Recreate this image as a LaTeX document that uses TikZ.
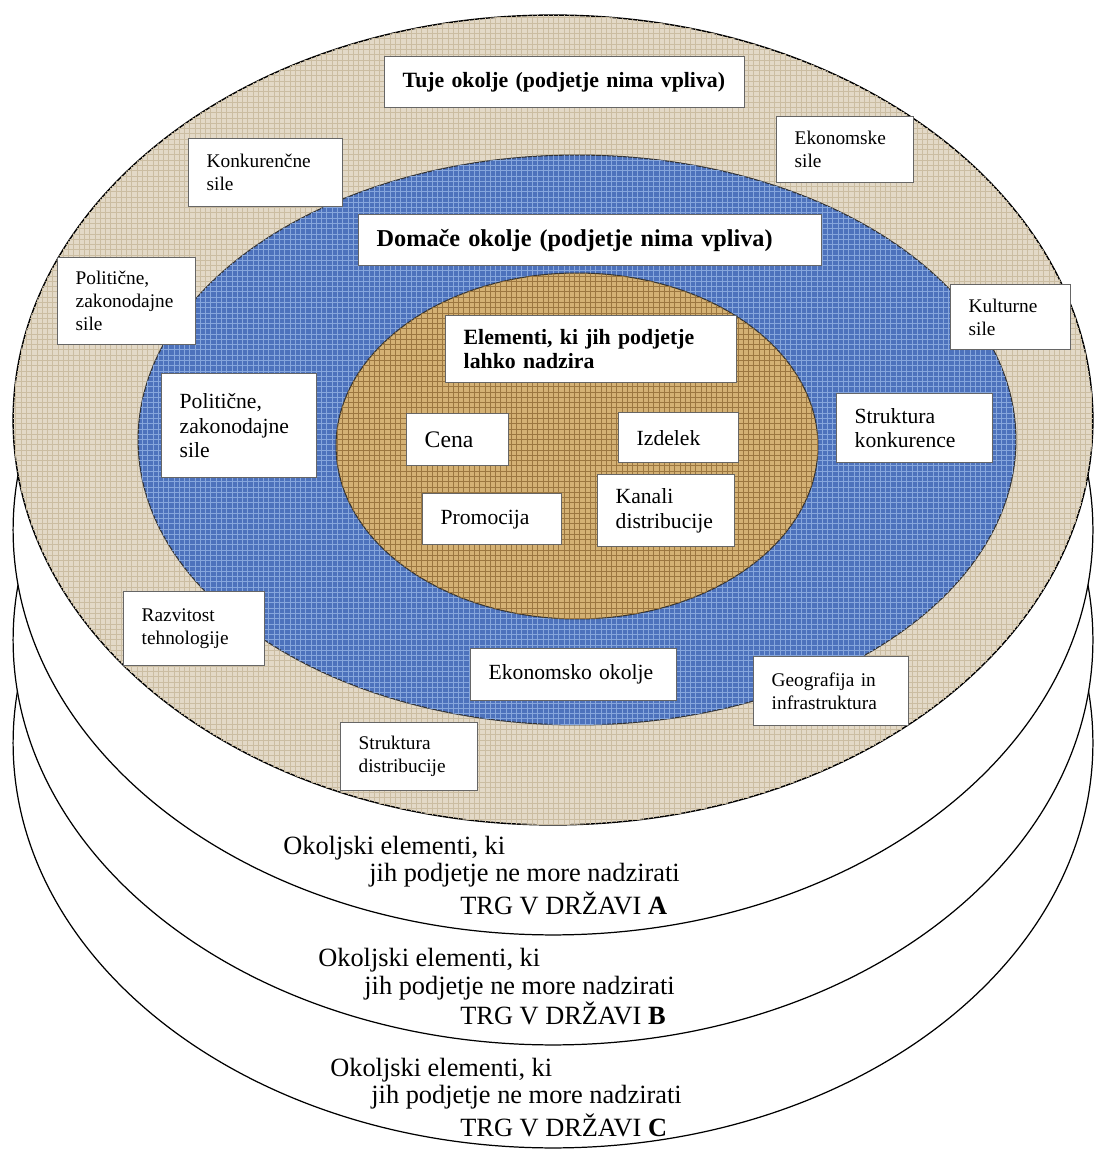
\documentclass[tikz,border=0pt]{standalone}
\usepackage{fontspec}
\setmainfont{Liberation Serif}
\usetikzlibrary{patterns}
\definecolor{beigefill}{HTML}{E3D9C7}
\definecolor{beigeweave}{HTML}{CBBDA2}
\definecolor{bluefill}{HTML}{4D72BC}
\definecolor{blueweave}{HTML}{86A6DC}
\definecolor{brownfill}{HTML}{D4B174}
\definecolor{brownweave}{HTML}{9C7740}
\begin{document}
\begin{tikzpicture}[x=0.02cm,y=-0.02cm,
  layer/.style={fill=white,draw=black,line width=0.7pt},
  box/.style={draw=black!60,fill=white,line width=0.8pt,inner xsep=0.36cm,inner ysep=0pt,anchor=north west,align=left},
  small/.style={font=\fontsize{11}{13}\selectfont},
  mid/.style={font=\fontsize{12.3}{14}\selectfont},
  ttl/.style={font=\bfseries\fontsize{12.4}{13.8}\selectfont},
  market/.style={anchor=west,inner sep=0pt,font=\fontsize{15}{16}\selectfont}]
\useasboundingbox (0,0) rectangle (1094,1151);
% lower markets
\foreach \yc in {743,640,530}
  \filldraw[layer] (553,\yc) ellipse [x radius=10.8cm, y radius=8.1cm];
% foreign environment
\filldraw[fill=beigefill,draw=black,line width=0.8pt,postaction={pattern=grid,pattern color=beigeweave}]
  (553,420) ellipse [x radius=10.8cm, y radius=8.1cm];
% domestic environment
\filldraw[fill=bluefill,draw=black!80,line width=0.6pt,postaction={pattern=grid,pattern color=blueweave}]
  (577,440) ellipse [x radius=8.78cm, y radius=5.7cm];
% controllable elements
\filldraw[fill=brownfill,draw=black!80,line width=0.6pt,postaction={pattern=grid,pattern color=brownweave}]
  (577,446) ellipse [x radius=4.82cm, y radius=3.46cm];

\node[box,ttl,text width=6.48cm,minimum height=1.02cm] (tuje) at (384,56) {Tuje okolje (podjetje nima vpliva)};
\node[box,small,text width=2.36cm,minimum height=1.36cm] (konk) at (188,138) {Konkurenčne\\sile};
\node[box,small,text width=2.02cm,minimum height=1.32cm] (ekon) at (776,116) {Ekonomske\\sile};
\node[box,small,text width=2.04cm,minimum height=1.74cm] (polzun) at (57,257) {Politične,\\zakonodajne\\sile};
\node[box,ttl,font=\bfseries\fontsize{13.8}{15}\selectfont,text width=8.54cm,minimum height=1.02cm] (domace) at (358,214) {Domače okolje (podjetje nima vpliva)};
\node[box,small,text width=1.68cm,minimum height=1.30cm] (kult) at (950,284) {Kulturne\\sile};
\node[box,ttl,text width=5.10cm,minimum height=1.34cm] (elem) at (445,315) {Elementi, ki jih podjetje\\lahko nadzira};
\node[box,mid,text width=2.38cm,minimum height=2.08cm] (polnot) at (161,373) {Politične,\\zakonodajne\\sile};
\node[box,font=\fontsize{13.5}{15}\selectfont,text width=1.32cm,minimum height=1.04cm] (cena) at (406,413) {Cena};
\node[box,mid,text width=1.68cm,minimum height=1.00cm] (izdelek) at (618,412) {Izdelek};
\node[box,mid,text width=2.40cm,minimum height=1.38cm] (strkon) at (836,393) {Struktura\\konkurence};
\node[box,mid,text width=2.06cm,minimum height=1.02cm] (promocija) at (422,493) {Promocija};
\node[box,mid,text width=2.02cm,minimum height=1.44cm] (kanali) at (597,474) {Kanali\\distribucije};
\node[box,small,text width=2.10cm,minimum height=1.48cm] (razv) at (123,591) {Razvitost\\tehnologije};
\node[box,mid,text width=3.40cm,minimum height=1.04cm] (ekook) at (470,648) {Ekonomsko okolje};
\node[box,small,text width=2.38cm,minimum height=1.38cm] (geo) at (753,656) {Geografija in\\infrastruktura};
\node[box,small,text width=2.02cm,minimum height=1.36cm] (strdis) at (340,722) {Struktura\\distribucije};

% market labels
\node[market] (aone) at (283,848) {Okoljski elementi, ki};
\node[market] (atwo) at (369,875) {jih podjetje ne more nadzirati};
\node[market] (athree) at (460,903) {TRG V DRŽAVI \textbf{A}};
\node[market] (bone) at (318,960) {Okoljski elementi, ki};
\node[market] (btwo) at (364,988) {jih podjetje ne more nadzirati};
\node[market] (bthree) at (460,1013) {TRG V DRŽAVI \textbf{B}};
\node[market] (cone) at (330,1070) {Okoljski elementi, ki};
\node[market] (ctwo) at (371,1097) {jih podjetje ne more nadzirati};
\node[market] (cthree) at (460,1125) {TRG V DRŽAVI \textbf{C}};
\end{tikzpicture}
\end{document}
